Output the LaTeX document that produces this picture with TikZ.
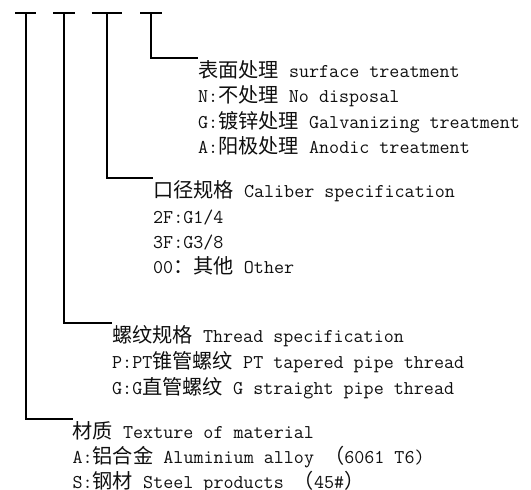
\documentclass[tikz,border=0pt]{standalone}
\usepackage{fontspec}
\newfontfamily\cjkfont{Noto Sans CJK SC}
\newcommand\zh[1]{{\cjkfont\fontsize{20.2}{24}\selectfont #1}}
\definecolor{ink}{RGB}{15,15,15}
\tikzset{
  txt/.style={anchor=base west, inner sep=0pt, text height=18.5pt, text=ink,
    font=\ttfamily\fontsize{19.5}{24}\selectfont},
  lead/.style={line width=1.8pt, black},
}
\begin{document}
\begin{tikzpicture}[x=1pt,y=-1pt]
\useasboundingbox (0,0) rectangle (531,490);
% group 1: surface treatment
\node[txt] (s0) at (198,77) {\zh{表面处理} surface treatment};
\node[txt] (s1) at (198,102.5) {N:\zh{不处理} No disposal};
\node[txt] (s2) at (198,128) {G:\zh{镀锌处理} Galvanizing treatment};
\node[txt] (s3) at (198,153) {A:\zh{阳极处理} Anodic treatment};
% group 2: caliber
\node[txt] (c0) at (153,197) {\zh{口径规格} Caliber specification};
\node[txt] (c1) at (153,223) {2F:G1/4};
\node[txt] (c2) at (153,248) {3F:G3/8};
\node[txt] (c3) at (153,273) {00\zh{：其他} Other};
% group 3: thread
\node[txt] (t0) at (112,342) {\zh{螺纹规格} Thread specification};
\node[txt] (t1) at (112,368) {P:PT\zh{锥管螺纹} PT tapered pipe thread};
\node[txt] (t2) at (112,394) {G:G\zh{直管螺纹} G straight pipe thread};
% group 4: material
\node[txt] (m0) at (72.5,438) {\zh{材质} Texture of material};
\node[txt] (m1) at (72.5,463) {A:\zh{铝合金} Aluminium alloy \zh{（}6061 T6)};
\node[txt] (m2) at (72.5,488) {S:\zh{钢材} Steel products \zh{（}45\#\zh{）}};
% tick tops
\coordinate (a1) at (15,12.7);  \coordinate (b1) at (36,12.7);  \coordinate (p1) at (25.7,12.7);
\coordinate (a2) at (53.3,12.7);\coordinate (b2) at (75,12.7);  \coordinate (p2) at (64,12.7);
\coordinate (a3) at (91.7,12.7);\coordinate (b3) at (121.7,12.7);\coordinate (p3) at (106.7,12.7);
\coordinate (a4) at (140,12.7); \coordinate (b4) at (161.7,12.7);\coordinate (p4) at (150.7,12.7);
\foreach \i in {1,2,3,4} {\draw[lead] (a\i) -- (b\i);}
% leaders
\draw[lead] (p4) |- (s0.north west);
\draw[lead] (p3) |- (c0.north west);
\draw[lead] (p2) |- (t0.north west);
\draw[lead] (p1) |- (m0.north west);
\end{tikzpicture}
\end{document}
